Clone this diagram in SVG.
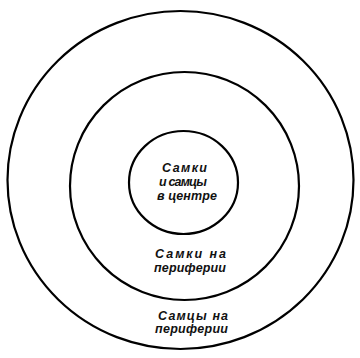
<svg xmlns="http://www.w3.org/2000/svg" width="360" height="358" viewBox="0 0 360 358">
<style>
.ring{fill:none;stroke:#000;stroke-width:2.2}
.lbl{font-family:"Liberation Sans",Arial,sans-serif;font-style:italic;font-weight:bold;font-size:12.5px;fill:#111}
</style>
<rect width="360" height="358" fill="#fff"/>
<g id="outer">
<ellipse class="ring" cx="180.5" cy="180" rx="173" ry="169"/>
<text class="lbl" x="158" y="320" textLength="70" lengthAdjust="spacing">Самцы на</text>
<text class="lbl" x="155" y="333" textLength="73" lengthAdjust="spacing">периферии</text>
</g>
<g id="middle">
<ellipse class="ring" cx="184.5" cy="186" rx="114.5" ry="114"/>
<text class="lbl" x="155" y="258" textLength="71" lengthAdjust="spacing">Самки на</text>
<text class="lbl" x="154" y="272" textLength="72" lengthAdjust="spacing">периферии</text>
</g>
<g id="inner">
<ellipse class="ring" cx="183.5" cy="182.5" rx="54.5" ry="51.5"/>
<text class="lbl" x="162" y="172" textLength="45" lengthAdjust="spacing">Самки</text>
<text class="lbl" x="159" y="186" textLength="48" lengthAdjust="spacing">и самцы</text>
<text class="lbl" x="157" y="200" textLength="60" lengthAdjust="spacing">в центре</text>
</g>
<g id="connectors"/>
</svg>
